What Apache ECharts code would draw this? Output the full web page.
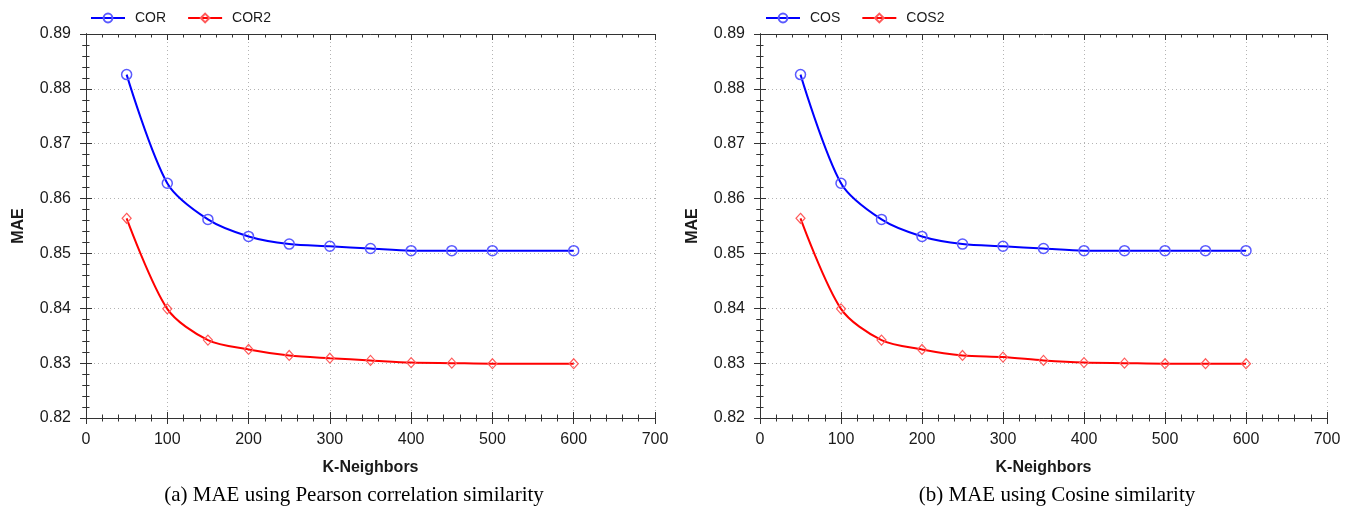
<!DOCTYPE html>
<html>
<head>
<meta charset="utf-8">
<script src="https://cdn.jsdelivr.net/npm/echarts@6/dist/echarts.min.js"></script>
<style>
  html, body { margin: 0; padding: 0; background: #fff; }
  #chart { width: 1354px; height: 512px; }
</style>
</head>
<body>
<div id="chart"></div>
<script>
// K values (number of neighbours) for each panel
const kPearson = [50, 100, 150, 200, 250, 300, 350, 400, 450, 500, 600];
const kCosine = [50, 100, 150, 200, 250, 300, 350, 400, 450, 500, 550, 600];

// MAE values
const corMAE  = [0.8826, 0.8628, 0.8562, 0.8531, 0.8517, 0.8513, 0.8509, 0.8505, 0.8505, 0.8505, 0.8505];
const cor2MAE = [0.8564, 0.8399, 0.8342, 0.8325, 0.8314, 0.8309, 0.8305, 0.8301, 0.8300, 0.8299, 0.8299];
const cosMAE  = [0.8826, 0.8628, 0.8562, 0.8531, 0.8517, 0.8513, 0.8509, 0.8505, 0.8505, 0.8505, 0.8505, 0.8505];
const cos2MAE = [0.8564, 0.8399, 0.8342, 0.8325, 0.8314, 0.8311, 0.8305, 0.8301, 0.8300, 0.8299, 0.8299, 0.8299];

// Axis ranges and labels
const xMin = 0, xMax = 700, xStep = 100;
const yMin = 0.82, yMax = 0.89, yStep = 0.01;
const xName = 'K-Neighbors';
const yName = 'MAE';
const captions = ['(a) MAE using Pearson correlation similarity', '(b) MAE using Cosine similarity'];
const legendNames = [['COR', 'COR2'], ['COS', 'COS2']];

const SANS = '"Liberation Sans", Arial, sans-serif';
const SERIF = '"Liberation Serif", "Times New Roman", serif';
const AXIS_COLOR = '#333';
const TEXT_COLOR = '#1a1a1a';

const panels = [
  { left: 86, width: 569, captionX: 354, legendX: 90 },
  { left: 760, width: 567, captionX: 1057, legendX: 765 }
];
const plotTop = 34, plotHeight = 384;

const grids = [];
const xAxes = [];
const yAxes = [];

function tickCfg(inside) {
  return { show: true, inside: inside, length: 6, lineStyle: { color: AXIS_COLOR, width: 1 } };
}
const minorCfg = { show: true, splitNumber: 5, length: 3.5, lineStyle: { color: AXIS_COLOR, width: 1 } };
const gridLine = { show: true, lineStyle: { color: '#b4b4b4', width: 1, type: [1, 3] } };

panels.forEach((p) => {
  const g0 = grids.length;
  // main grid (labels, outward ticks, dotted grid) and a frame grid (inward ticks on all sides)
  grids.push({ left: p.left, top: plotTop, width: p.width, height: plotHeight, containLabel: false });
  grids.push({ left: p.left, top: plotTop, width: p.width, height: plotHeight, containLabel: false });

  const xBase = { type: 'value', min: xMin, max: xMax, interval: xStep,
    axisLine: { show: true, lineStyle: { color: AXIS_COLOR, width: 1 } } };
  const yBase = { type: 'value', min: yMin, max: yMax, interval: yStep,
    axisLine: { show: true, lineStyle: { color: AXIS_COLOR, width: 1 } } };

  xAxes.push(Object.assign({}, xBase, {
    gridIndex: g0, position: 'bottom',
    axisTick: tickCfg(false), minorTick: minorCfg, splitLine: gridLine,
    axisLabel: { color: TEXT_COLOR, fontFamily: SANS, fontSize: 16, margin: 14 },
    name: xName, nameLocation: 'middle', nameGap: 42,
    nameTextStyle: { color: TEXT_COLOR, fontFamily: SANS, fontSize: 16, fontWeight: 'bold' }
  }));
  xAxes.push(Object.assign({}, xBase, {
    gridIndex: g0 + 1, position: 'bottom',
    axisTick: tickCfg(true), minorTick: minorCfg, splitLine: { show: false },
    axisLabel: { show: false }
  }));
  xAxes.push(Object.assign({}, xBase, {
    gridIndex: g0 + 1, position: 'top',
    axisTick: tickCfg(true), minorTick: minorCfg, splitLine: { show: false },
    axisLabel: { show: false }
  }));

  yAxes.push(Object.assign({}, yBase, {
    gridIndex: g0, position: 'left',
    axisTick: tickCfg(false), minorTick: minorCfg, splitLine: gridLine,
    axisLabel: { color: TEXT_COLOR, fontFamily: SANS, fontSize: 16, margin: 15,
      formatter: v => v.toFixed(2) },
    name: yName, nameLocation: 'middle', nameGap: 59, nameRotate: 90,
    nameTextStyle: { color: TEXT_COLOR, fontFamily: SANS, fontSize: 16, fontWeight: 'bold' }
  }));
  yAxes.push(Object.assign({}, yBase, {
    gridIndex: g0 + 1, position: 'left',
    axisTick: tickCfg(true), minorTick: minorCfg, splitLine: { show: false },
    axisLabel: { show: false }
  }));
  yAxes.push(Object.assign({}, yBase, {
    gridIndex: g0 + 1, position: 'right',
    axisTick: tickCfg(true), minorTick: minorCfg, splitLine: { show: false },
    axisLabel: { show: false }
  }));
});

function pairs(xs, ys) { return xs.map((x, i) => [x, ys[i]]); }

function blueSeries(name, axisIdx, data) {
  return {
    name: name, type: 'line', xAxisIndex: axisIdx, yAxisIndex: axisIdx,
    data: data, smooth: 0.3,
    symbol: 'circle', symbolSize: 10, z: 5,
    lineStyle: { color: '#0000ff', width: 2 },
    itemStyle: { color: 'rgba(255,255,255,0)', borderColor: '#5a5aff', borderWidth: 1.5 }
  };
}
function redSeries(name, axisIdx, data) {
  return {
    name: name, type: 'line', xAxisIndex: axisIdx, yAxisIndex: axisIdx,
    data: data, smooth: 0.3,
    symbol: 'diamond', symbolSize: [9, 10], z: 5,
    lineStyle: { color: '#ff0000', width: 2 },
    itemStyle: { color: 'rgba(255,255,255,0)', borderColor: '#ff5a5a', borderWidth: 1.2 }
  };
}

const series = [
  blueSeries(legendNames[0][0], 0, pairs(kPearson, corMAE)),
  redSeries(legendNames[0][1], 0, pairs(kPearson, cor2MAE)),
  blueSeries(legendNames[1][0], 3, pairs(kCosine, cosMAE)),
  redSeries(legendNames[1][1], 3, pairs(kCosine, cos2MAE))
];

const legendBase = {
  top: 11, padding: 0, itemWidth: 34, itemHeight: 11, itemGap: 21,
  textStyle: { color: TEXT_COLOR, fontFamily: SANS, fontSize: 14, padding: [0, 0, 0, 5] }
};

const option = {
  animation: false,
  backgroundColor: '#fff',
  grid: grids,
  xAxis: xAxes,
  yAxis: yAxes,
  legend: panels.map((p, i) => Object.assign({}, legendBase, { left: p.legendX, data: legendNames[i] })),
  series: series,
  graphic: panels.map((p, i) => ({
    type: 'text', x: p.captionX, y: 495,
    style: { text: captions[i], fill: '#000', font: '21px ' + SERIF,
      textAlign: 'center', textVerticalAlign: 'middle' }
  }))
};

const chart = echarts.init(document.getElementById('chart'), null, { renderer: 'canvas' });
chart.setOption(option);
</script>
</body>
</html>
